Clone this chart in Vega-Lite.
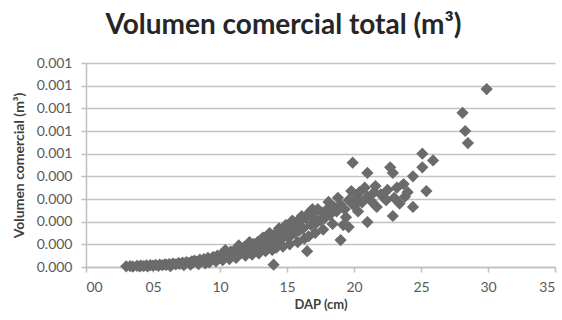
{
  "$schema": "https://vega.github.io/schema/vega-lite/v6.json",
  "width": 469,
  "height": 204,
  "autosize": {"type": "none"},
  "padding": {"left": 86, "top": 63, "right": 7, "bottom": 53},
  "background": "white",
  "title": {"text": "Volumen comercial total (m³)", "font": "Lato", "fontSize": 28, "fontWeight": "bold", "color": "#262626", "anchor": "middle", "dx": -37, "offset": 16},
  "config": {
    "view": {"stroke": null},
    "axis": {"labelFont": "Lato", "titleFont": "Lato", "labelColor": "#595959", "titleColor": "#404040", "domainColor": "#bfbfbf", "tickColor": "#bfbfbf", "gridColor": "#c4c4c4", "gridWidth": 1.5, "domainWidth": 1.5, "tickWidth": 1.5}
  },
  "data": {"values": [
    {"dap": 3.0, "vol": 0.000003}, {"dap": 3.3, "vol": 0.000004}, {"dap": 3.5, "vol": 0.000002}, {"dap": 3.8, "vol": 0.000005},
    {"dap": 4.0, "vol": 0.000003}, {"dap": 4.1, "vol": 0.000006}, {"dap": 4.3, "vol": 0.000004}, {"dap": 4.5, "vol": 0.000007},
    {"dap": 4.6, "vol": 0.000003}, {"dap": 4.8, "vol": 0.000008}, {"dap": 5.0, "vol": 0.000006}, {"dap": 5.2, "vol": 0.000009},
    {"dap": 5.4, "vol": 0.000005}, {"dap": 5.5, "vol": 0.000010}, {"dap": 5.7, "vol": 0.000008}, {"dap": 5.9, "vol": 0.000012},
    {"dap": 6.0, "vol": 0.000009}, {"dap": 6.2, "vol": 0.000013}, {"dap": 6.4, "vol": 0.000010}, {"dap": 6.5, "vol": 0.000015},
    {"dap": 6.7, "vol": 0.000012}, {"dap": 6.9, "vol": 0.000017}, {"dap": 7.0, "vol": 0.000014}, {"dap": 7.2, "vol": 0.000019},
    {"dap": 7.4, "vol": 0.000016}, {"dap": 7.5, "vol": 0.000022}, {"dap": 7.7, "vol": 0.000018}, {"dap": 7.9, "vol": 0.000025},
    {"dap": 8.0, "vol": 0.000021}, {"dap": 8.1, "vol": 0.000028}, {"dap": 8.3, "vol": 0.000024}, {"dap": 8.5, "vol": 0.000032},
    {"dap": 8.6, "vol": 0.000026}, {"dap": 8.8, "vol": 0.000035}, {"dap": 9.0, "vol": 0.000030}, {"dap": 9.1, "vol": 0.000040},
    {"dap": 9.3, "vol": 0.000033}, {"dap": 9.5, "vol": 0.000045}, {"dap": 9.6, "vol": 0.000036}, {"dap": 9.8, "vol": 0.000050},
    {"dap": 10.0, "vol": 0.000042}, {"dap": 10.1, "vol": 0.000055}, {"dap": 10.3, "vol": 0.000048}, {"dap": 10.5, "vol": 0.000062},
    {"dap": 10.6, "vol": 0.000045}, {"dap": 10.8, "vol": 0.000068}, {"dap": 11.0, "vol": 0.000055}, {"dap": 11.1, "vol": 0.000075},
    {"dap": 11.3, "vol": 0.000060}, {"dap": 11.5, "vol": 0.000082}, {"dap": 11.6, "vol": 0.000066}, {"dap": 11.8, "vol": 0.000088},
    {"dap": 12.0, "vol": 0.000072}, {"dap": 12.1, "vol": 0.000095}, {"dap": 12.3, "vol": 0.000078}, {"dap": 12.5, "vol": 0.000102},
    {"dap": 12.6, "vol": 0.000080}, {"dap": 12.8, "vol": 0.000110}, {"dap": 13.0, "vol": 0.000088}, {"dap": 13.1, "vol": 0.000118},
    {"dap": 13.3, "vol": 0.000095}, {"dap": 13.5, "vol": 0.000128}, {"dap": 13.6, "vol": 0.000102}, {"dap": 13.8, "vol": 0.000135},
    {"dap": 14.0, "vol": 0.000010}, {"dap": 14.0, "vol": 0.000110}, {"dap": 14.1, "vol": 0.000145}, {"dap": 14.3, "vol": 0.000120},
    {"dap": 14.5, "vol": 0.000155}, {"dap": 14.6, "vol": 0.000125}, {"dap": 14.8, "vol": 0.000165}, {"dap": 15.0, "vol": 0.000135},
    {"dap": 15.1, "vol": 0.000175}, {"dap": 15.3, "vol": 0.000140}, {"dap": 15.5, "vol": 0.000185}, {"dap": 15.7, "vol": 0.000198},
    {"dap": 15.6, "vol": 0.000150}, {"dap": 15.9, "vol": 0.000160}, {"dap": 16.0, "vol": 0.000205}, {"dap": 16.2, "vol": 0.000170},
    {"dap": 16.4, "vol": 0.000215}, {"dap": 16.5, "vol": 0.000070}, {"dap": 16.7, "vol": 0.000243}, {"dap": 16.8, "vol": 0.000185},
    {"dap": 17.0, "vol": 0.000220}, {"dap": 17.2, "vol": 0.000195}, {"dap": 17.5, "vol": 0.000207}, {"dap": 17.6, "vol": 0.000240},
    {"dap": 17.8, "vol": 0.000215}, {"dap": 18.0, "vol": 0.000255}, {"dap": 18.1, "vol": 0.000287}, {"dap": 18.2, "vol": 0.000230},
    {"dap": 18.5, "vol": 0.000265}, {"dap": 18.7, "vol": 0.000245}, {"dap": 19.0, "vol": 0.000119}, {"dap": 19.0, "vol": 0.000275},
    {"dap": 19.2, "vol": 0.000185}, {"dap": 19.3, "vol": 0.000255}, {"dap": 19.6, "vol": 0.000176}, {"dap": 19.6, "vol": 0.000295},
    {"dap": 19.9, "vol": 0.000460}, {"dap": 20.0, "vol": 0.000270}, {"dap": 20.2, "vol": 0.000305}, {"dap": 20.4, "vol": 0.000330},
    {"dap": 20.6, "vol": 0.000285}, {"dap": 21.0, "vol": 0.000415}, {"dap": 21.0, "vol": 0.000198}, {"dap": 21.0, "vol": 0.000310},
    {"dap": 21.3, "vol": 0.000290}, {"dap": 21.6, "vol": 0.000357}, {"dap": 21.7, "vol": 0.000265}, {"dap": 22.0, "vol": 0.000320},
    {"dap": 22.2, "vol": 0.000310}, {"dap": 22.5, "vol": 0.000340}, {"dap": 22.7, "vol": 0.000440}, {"dap": 22.9, "vol": 0.000415},
    {"dap": 22.9, "vol": 0.000225}, {"dap": 23.2, "vol": 0.000350}, {"dap": 23.4, "vol": 0.000280}, {"dap": 23.7, "vol": 0.000366},
    {"dap": 24.0, "vol": 0.000330}, {"dap": 24.4, "vol": 0.000400}, {"dap": 24.4, "vol": 0.000265}, {"dap": 25.1, "vol": 0.000500},
    {"dap": 25.1, "vol": 0.000440}, {"dap": 25.4, "vol": 0.000335}, {"dap": 25.9, "vol": 0.000470}, {"dap": 28.1, "vol": 0.000680},
    {"dap": 28.3, "vol": 0.000600}, {"dap": 28.5, "vol": 0.000547}, {"dap": 29.9, "vol": 0.000785},
    {"dap": 9.2, "vol": 0.000020}, {"dap": 9.7, "vol": 0.000025}, {"dap": 10.2, "vol": 0.000030}, {"dap": 10.4, "vol": 0.000075},
    {"dap": 10.7, "vol": 0.000035}, {"dap": 11.2, "vol": 0.000040}, {"dap": 11.4, "vol": 0.000095}, {"dap": 11.9, "vol": 0.000050},
    {"dap": 12.2, "vol": 0.000110}, {"dap": 12.4, "vol": 0.000055}, {"dap": 12.9, "vol": 0.000060}, {"dap": 13.2, "vol": 0.000130},
    {"dap": 13.4, "vol": 0.000070}, {"dap": 13.7, "vol": 0.000150}, {"dap": 13.9, "vol": 0.000075}, {"dap": 14.2, "vol": 0.000085},
    {"dap": 14.4, "vol": 0.000170}, {"dap": 14.7, "vol": 0.000090}, {"dap": 14.9, "vol": 0.000185}, {"dap": 15.2, "vol": 0.000100},
    {"dap": 15.4, "vol": 0.000205}, {"dap": 15.8, "vol": 0.000110}, {"dap": 16.1, "vol": 0.000225}, {"dap": 16.3, "vol": 0.000125},
    {"dap": 16.6, "vol": 0.000135}, {"dap": 16.9, "vol": 0.000255}, {"dap": 17.1, "vol": 0.000150}, {"dap": 17.3, "vol": 0.000255},
    {"dap": 17.7, "vol": 0.000165}, {"dap": 18.4, "vol": 0.000190}, {"dap": 18.8, "vol": 0.000305}, {"dap": 19.4, "vol": 0.000220},
    {"dap": 19.8, "vol": 0.000335}, {"dap": 20.3, "vol": 0.000245}, {"dap": 20.8, "vol": 0.000350}, {"dap": 21.5, "vol": 0.000330},
    {"dap": 22.4, "vol": 0.000295}, {"dap": 23.0, "vol": 0.000305}, {"dap": 23.8, "vol": 0.000310}, {"dap": 7.3, "vol": 0.000008},
    {"dap": 7.8, "vol": 0.000010}, {"dap": 8.4, "vol": 0.000013}, {"dap": 8.9, "vol": 0.000016}, {"dap": 6.3, "vol": 0.000004}
  ]},
  "mark": {"type": "point", "shape": "diamond", "filled": true, "size": 150, "color": "#6b6b6b", "opacity": 1},
  "encoding": {
    "x": {
      "field": "dap", "type": "quantitative",
      "scale": {"domain": [0, 35], "nice": false, "zero": true},
      "axis": {"title": "DAP (cm)", "values": [0, 5, 10, 15, 20, 25, 30, 35], "format": "02d", "grid": false, "tickSize": 5, "labelFontSize": 14, "labelPadding": 8, "titleFontSize": 13, "titleFontWeight": "bold", "titlePadding": 4}
    },
    "y": {
      "field": "vol", "type": "quantitative",
      "scale": {"domain": [0, 0.0009], "nice": false},
      "axis": {"title": "Volumen comercial  (m³)", "values": [0, 0.0001, 0.0002, 0.0003, 0.0004, 0.0005, 0.0006, 0.0007, 0.0008, 0.0009], "labelExpr": "datum.value >= 0.00045 ? '0.001' : '0.000'", "grid": true, "tickSize": 5, "labelFontSize": 14, "labelPadding": 9, "titleFontSize": 14, "titleFontWeight": "bold", "titlePadding": 10}
    }
  }
}
